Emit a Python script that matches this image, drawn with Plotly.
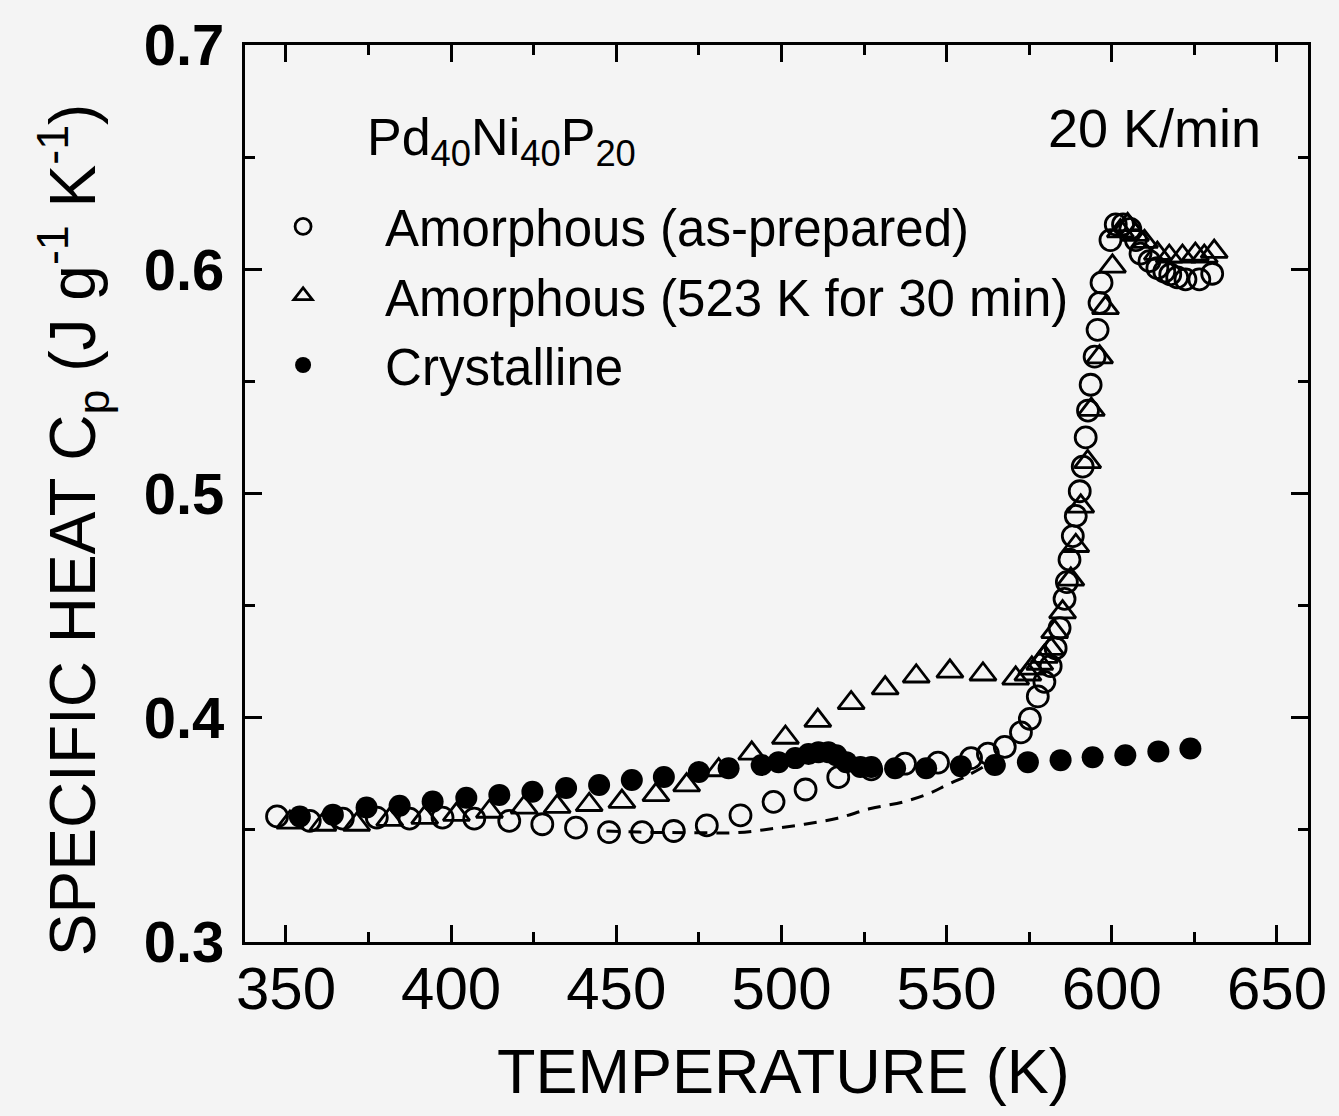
import plotly.graph_objects as go

# Specific heat of Pd40Ni40P20 measured at 20 K/min
# Amorphous, as-prepared (open circles)
t_asprep = [347.3, 357.2, 367.2, 377.5, 387.4, 397.4, 407.0, 417.6, 427.6, 437.8,
            447.8, 457.8, 467.4, 477.4, 487.6, 497.6, 507.3, 517.2, 527.2, 537.4,
            547.4, 557.4, 562.5, 567.6, 572.5, 575.2, 577.6, 579.6, 581.5, 583.0,
            584.2, 585.7, 586.4, 587.2, 588.2, 589.1, 590.3, 591.2, 592.1, 592.8,
            593.6, 594.8, 595.7, 596.3, 596.9, 599.6, 601.2, 603.4, 605.6, 607.3,
            608.7, 611.4, 613.8, 615.9, 617.7, 619.8, 622.3, 626.5, 630.4]
cp_asprep = [0.356, 0.354, 0.355, 0.3555, 0.355, 0.3555, 0.355, 0.354, 0.3525, 0.351,
             0.349, 0.349, 0.3495, 0.352, 0.3565, 0.3625, 0.368, 0.3735, 0.377, 0.3795,
             0.380, 0.382, 0.384, 0.387, 0.3935, 0.3995, 0.4095, 0.416, 0.423, 0.431,
             0.440, 0.453, 0.4605, 0.4705, 0.481, 0.490, 0.501, 0.512, 0.525, 0.537,
             0.5485, 0.561, 0.573, 0.585, 0.594, 0.613, 0.620, 0.620, 0.618, 0.613,
             0.607, 0.6036, 0.6005, 0.599, 0.5977, 0.5964, 0.5955, 0.5955, 0.598]

# Amorphous, annealed at 523 K for 30 min (open triangles)
t_anneal = [351.2, 361.2, 371.4, 381.4, 392.0, 401.6, 411.6, 422.1, 432.1, 441.8,
            451.7, 462.0, 471.3, 481.0, 491.0, 501.2, 511.0, 521.1, 531.4, 540.8,
            551.0, 561.0, 570.9, 574.6, 575.8, 578.2, 579.6, 581.5, 582.7, 585.1,
            587.6, 589.1, 590.6, 592.7, 593.8, 596.3, 598.1, 600.2, 602.6, 604.8,
            607.2, 609.9, 613.8, 617.4, 621.4, 625.3, 628.0, 631.0]
cp_anneal = [0.3533, 0.3524, 0.3524, 0.3546, 0.3555, 0.3568, 0.3582, 0.360, 0.3604, 0.3612,
             0.3626, 0.3656, 0.370, 0.3767, 0.3841, 0.3912, 0.3987, 0.4066, 0.4132, 0.4185,
             0.4207, 0.4194, 0.4176, 0.4194, 0.422, 0.4242, 0.4273, 0.4308, 0.4383, 0.4471,
             0.4617, 0.4767, 0.4943, 0.5141, 0.5374, 0.5608, 0.5828, 0.6013, 0.6170, 0.6198,
             0.6154, 0.6123, 0.607, 0.6057, 0.6057, 0.6066, 0.6057, 0.6079]

# Crystalline (filled circles)
t_cryst = [354.2, 364.2, 374.4, 384.4, 394.4, 404.6, 414.6, 424.6, 434.8, 444.8,
           454.7, 464.4, 475.0, 484.0, 494.0, 499.1, 504.2, 508.2, 511.2, 514.2,
           516.6, 519.6, 523.9, 527.2, 534.4, 543.8, 554.3, 564.6, 574.6, 584.5,
           594.2, 604.1, 614.1, 623.8]
cp_cryst = [0.356, 0.3568, 0.360, 0.3608, 0.3626, 0.3643, 0.3656, 0.367, 0.3687, 0.370,
            0.3722, 0.3736, 0.3758, 0.3775, 0.3789, 0.3802, 0.382, 0.3838, 0.3846, 0.3846,
            0.3833, 0.3802, 0.378, 0.378, 0.3775, 0.3775, 0.3784, 0.3789, 0.3802, 0.3811,
            0.3824, 0.3833, 0.385, 0.3863]

# Glass baseline (dashed)
t_base = [447, 457, 467, 477, 487, 497, 507, 517, 527, 537, 545, 550, 556, 561]
cp_base = [0.3495, 0.349, 0.3488, 0.3487, 0.3488, 0.3505, 0.3525, 0.3552, 0.3595,
           0.3625, 0.3664, 0.370, 0.374, 0.378]

x_ticks = [350, 400, 450, 500, 550, 600, 650]
y_ticks = [0.3, 0.4, 0.5, 0.6, 0.7]
y_tick_text = ["0.3", "0.4", "0.5", "0.6", "0.7"]

FONT = "Liberation Sans, Arial, Helvetica, sans-serif"
BG = "#f4f4f4"
INK = "black"

fig = go.Figure()

fig.add_trace(go.Scatter(
    x=t_base, y=cp_base, mode="lines", showlegend=False, hoverinfo="skip",
    line=dict(color=INK, width=3, dash="13px,9px", shape="spline"),
))
fig.add_trace(go.Scatter(
    x=t_cryst, y=cp_cryst, mode="markers", name="Crystalline",
    marker=dict(symbol="circle", size=22, color=INK, line=dict(width=0)),
))
fig.add_trace(go.Scatter(
    x=t_anneal, y=cp_anneal, mode="markers", name="Amorphous (523 K for 30 min)",
    marker=dict(symbol="triangle-up-open", size=23, color=INK, line=dict(width=2.8, color=INK)),
))
fig.add_trace(go.Scatter(
    x=t_asprep, y=cp_asprep, mode="markers", name="Amorphous (as-prepared)",
    marker=dict(symbol="circle-open", size=21, color=INK, line=dict(width=2.8, color=INK)),
))

fig.update_xaxes(
    range=[337.6, 659.4], tickvals=x_ticks, ticktext=[str(v) for v in x_ticks],
    showline=True, linewidth=3, linecolor=INK, mirror="allticks",
    ticks="inside", ticklen=17, tickwidth=3, tickcolor=INK,
    minor=dict(ticks="inside", dtick=25, tick0=350, ticklen=10, tickwidth=2.5, tickcolor=INK),
    showgrid=False, zeroline=False,
    tickfont=dict(family=FONT, size=60, color=INK),
    ticklabelstandoff=-8,
)
fig.update_yaxes(
    range=[0.3, 0.7], tickvals=y_ticks, ticktext=y_tick_text,
    showline=True, linewidth=3, linecolor=INK, mirror="allticks",
    ticks="inside", ticklen=17, tickwidth=3, tickcolor=INK,
    minor=dict(ticks="inside", dtick=0.05, tick0=0.3, ticklen=10, tickwidth=2.5, tickcolor=INK),
    showgrid=False, zeroline=False,
    tickfont=dict(family=FONT, size=58, color=INK, weight="bold"),
    ticklabelstandoff=6,
)

fig.update_layout(
    width=1339, height=1116,
    margin=dict(l=245, r=28, t=38, b=174),
    paper_bgcolor=BG, plot_bgcolor=BG,
    font=dict(family=FONT, color=INK),
    legend=dict(
        x=-0.0225, y=0.842, xanchor="left", yanchor="top",
        bgcolor="rgba(0,0,0,0)", borderwidth=0,
        font=dict(family=FONT, size=51, color=INK),
        itemwidth=154, traceorder="reversed",
    ),
    annotations=[
        dict(text="Pd<sub>40</sub>Ni<sub>40</sub>P<sub>20</sub>", xref="paper", yref="paper",
             x=0.1126, y=0.893, xanchor="left", yanchor="middle", showarrow=False,
             font=dict(family=FONT, size=52, color=INK)),
        dict(text="20 K/min", xref="paper", yref="paper",
             x=0.958, y=0.907, xanchor="right", yanchor="middle", showarrow=False,
             font=dict(family=FONT, size=54, color=INK)),
        dict(text="TEMPERATURE (K)", xref="paper", yref="paper",
             x=0.5066, y=-0.1438, xanchor="center", yanchor="middle", showarrow=False,
             font=dict(family=FONT, size=63, color=INK)),
        dict(text="SPECIFIC HEAT C<sub>p</sub> (J g<sup>-1</sup> K<sup>-1</sup>)",
             xref="paper", yref="paper", x=-0.162, y=0.46,
             xanchor="center", yanchor="middle", textangle=-90, showarrow=False,
             font=dict(family=FONT, size=64, color=INK)),
    ],
)

fig.write_html("out.html")
